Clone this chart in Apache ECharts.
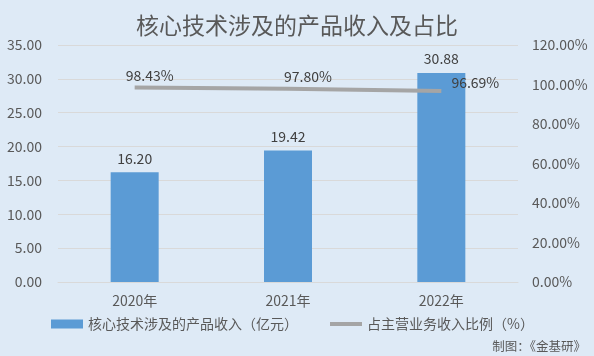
<!DOCTYPE html>
<html><head><meta charset="utf-8">
<script src="https://cdn.jsdelivr.net/npm/echarts@6/dist/echarts.min.js"></script>
<style>html,body{margin:0;padding:0;background:#DEEAF6;}#c{width:594px;height:356px;}</style>
</head><body><div id="c"></div>
<script>
const categories = ['2020年', '2021年', '2022年'];
const revenue = [16.20, 19.42, 30.88];
const ratio = [98.43, 97.80, 96.69];
const leftTicks = {min: 0, max: 35, interval: 5};
const rightTicks = {min: 0, max: 120, interval: 20};
const font = '"Noto Sans CJK SC", "Microsoft YaHei", sans-serif';
const txt = '#595959';
const lineLabelOffsets = [[15, 0], [20, 0], [34, 4]];
const chart = echarts.init(document.getElementById('c'));
chart.setOption({
  backgroundColor: '#DEEAF6',
  animation: false,
  textStyle: {fontFamily: font},
  title: {text: '核心技术涉及的产品收入及占比', left: 'center', top: 9,
    textStyle: {fontSize: 23, fontWeight: 'normal', color: txt, fontFamily: font}},
  graphic: [{type: 'text', right: 8, bottom: 3,
    style: {text: '制图：《金基研》', fontSize: 12.5, fill: txt, fontFamily: font}}],
  legend: {bottom: 20, left: 46, itemGap: 32, itemWidth: 32, itemHeight: 9,
    textStyle: {fontSize: 14, color: txt, fontFamily: font},
    data: [{name: '核心技术涉及的产品收入（亿元）', icon: 'rect'},
           {name: '占主营业务收入比例（%）', icon: 'path://M0,0 L0.01,0 Z M0,2.5 L32,2.5 L32,6.5 L0,6.5 Z M0,9 L0.01,9 Z',
            itemStyle: {color: '#A5A5A5'}}]},
  grid: {left: 58, right: 76, top: 45, bottom: 74},
  xAxis: {type: 'category', data: categories,
    axisLine: {lineStyle: {color: '#D9D9D9'}}, axisTick: {show: false},
    axisLabel: {fontSize: 14, color: txt, margin: 12}},
  yAxis: [
    {type: 'value', min: leftTicks.min, max: leftTicks.max, interval: leftTicks.interval,
      axisLabel: {fontSize: 14, color: txt, formatter: v => v.toFixed(2), margin: 16},
      splitLine: {lineStyle: {color: '#D9D9D9'}}, axisLine: {show: false}},
    {type: 'value', min: rightTicks.min, max: rightTicks.max, interval: rightTicks.interval,
      axisLabel: {fontSize: 14, color: txt, formatter: v => v.toFixed(2) + '%', margin: 14},
      splitLine: {show: false}, axisLine: {show: false}}
  ],
  series: [
    {name: '核心技术涉及的产品收入（亿元）', type: 'bar', data: revenue, barWidth: 48,
      itemStyle: {color: '#5B9BD5'},
      label: {show: true, position: 'top', distance: 7, fontSize: 14, color: '#404040',
        formatter: p => p.value.toFixed(2)}},
    {name: '占主营业务收入比例（%）', type: 'line', yAxisIndex: 1,
      data: ratio.map((v, i) => ({value: v, label: {offset: lineLabelOffsets[i]}})),
      symbol: 'circle', symbolSize: 0.1, showSymbol: true,
      lineStyle: {color: '#A5A5A5', width: 4}, itemStyle: {color: '#A5A5A5'},
      label: {show: true, position: 'top', distance: 5, fontSize: 14, color: '#404040',
        formatter: p => p.value.toFixed(2) + '%'}}
  ]
});
</script></body></html>
